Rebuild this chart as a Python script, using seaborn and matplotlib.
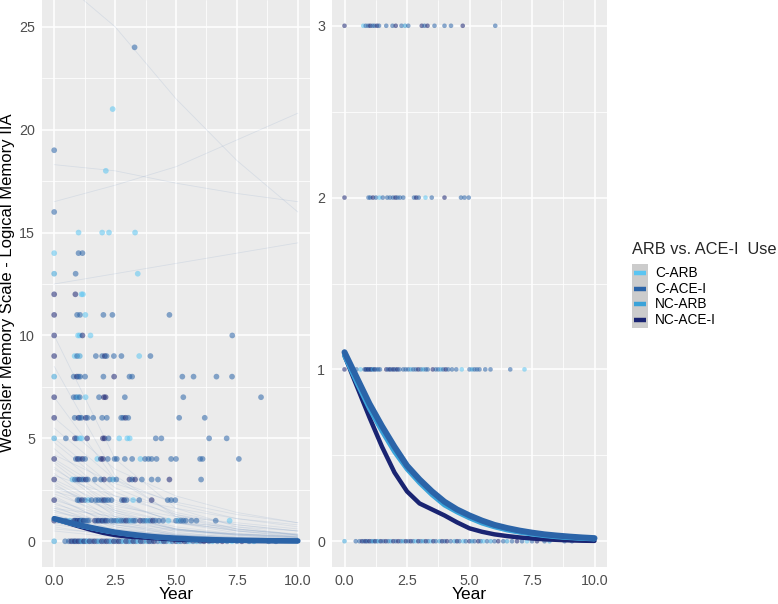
import numpy as np
import pandas as pd
import seaborn as sns
import matplotlib.pyplot as plt
from matplotlib.patches import Rectangle
from matplotlib.lines import Line2D
from matplotlib.ticker import MultipleLocator, FormatStrFormatter

groups = ["C-ARB", "C-ACE-I", "NC-ARB", "NC-ACE-I"]
group_colors = ["#5BC5F2", "#2B64A8", "#3AA3D9", "#1A2472"]
codes = {"A": "C-ARB", "B": "C-ACE-I", "N": "NC-ARB", "D": "NC-ACE-I"}

# mean predicted curves
curve_years = [0, 0.5, 1, 1.5, 2, 2.5, 3, 3.5, 4, 4.5, 5,
               5.5, 6, 6.5, 7, 7.5, 8, 8.5, 9, 9.5, 10]
mean_c_arb = [1.09, 0.93, 0.78, 0.65, 0.53, 0.43, 0.35, 0.28, 0.22, 0.175, 0.14,
              0.11, 0.087, 0.069, 0.055, 0.044, 0.035, 0.028, 0.022, 0.018, 0.014]
mean_c_ace = [1.10, 0.95, 0.80, 0.67, 0.55, 0.44, 0.36, 0.29, 0.23, 0.185, 0.15,
              0.12, 0.095, 0.077, 0.062, 0.05, 0.04, 0.033, 0.027, 0.022, 0.018]
mean_nc_arb = [1.08, 0.92, 0.77, 0.64, 0.52, 0.42, 0.34, 0.27, 0.21, 0.17, 0.135,
               0.105, 0.083, 0.065, 0.052, 0.041, 0.032, 0.025, 0.02, 0.016, 0.013]
mean_nc_ace = [1.08, 0.90, 0.72, 0.55, 0.40, 0.29, 0.22, 0.185, 0.15, 0.11, 0.075,
               0.055, 0.04, 0.03, 0.022, 0.016, 0.011, 0.008, 0.005, 0.003, 0.002]

# individual subject trajectories (faint lines, left panel)
traj_years = [0, 2.5, 5, 7.5, 10]
trajectories = [
    [5.0, 2.6, 1.4, 0.8, 0.5], [4.5, 2.0, 0.9, 0.4, 0.2], [4.0, 2.2, 1.3, 0.8, 0.5],
    [3.8, 1.5, 0.6, 0.25, 0.1], [3.5, 1.8, 1.0, 0.6, 0.35], [3.3, 1.2, 0.45, 0.15, 0.05],
    [3.0, 1.6, 0.9, 0.5, 0.3], [2.8, 1.0, 0.35, 0.12, 0.04], [2.6, 1.5, 0.9, 0.55, 0.35],
    [2.5, 0.9, 0.3, 0.1, 0.03], [2.3, 1.2, 0.6, 0.3, 0.15], [2.2, 0.7, 0.2, 0.06, 0.02],
    [2.0, 1.1, 0.6, 0.35, 0.2], [1.9, 0.6, 0.2, 0.06, 0.02], [1.8, 1.0, 0.55, 0.3, 0.18],
    [1.7, 0.5, 0.15, 0.05, 0.01], [1.6, 0.8, 0.4, 0.2, 0.1], [1.5, 0.5, 0.15, 0.05, 0.02],
    [1.4, 0.9, 0.55, 0.35, 0.22], [1.3, 0.45, 0.15, 0.05, 0.02], [1.2, 0.6, 0.3, 0.15, 0.08],
    [1.1, 0.35, 0.1, 0.03, 0.01], [1.0, 0.55, 0.3, 0.17, 0.1], [0.9, 0.3, 0.1, 0.03, 0.01],
    [0.8, 0.45, 0.25, 0.14, 0.08], [0.7, 0.25, 0.08, 0.03, 0.01], [0.6, 0.35, 0.2, 0.12, 0.07],
    [0.5, 0.2, 0.08, 0.03, 0.01], [6.0, 3.5, 2.2, 1.4, 0.9], [7.0, 3.0, 1.3, 0.6, 0.3],
    [8.5, 3.2, 1.2, 0.5, 0.2], [10.0, 4.0, 1.6, 0.7, 0.3], [5.5, 3.0, 1.8, 1.1, 0.7],
    [4.2, 2.8, 1.9, 1.3, 0.9], [3.2, 2.2, 1.6, 1.1, 0.8], [2.4, 1.7, 1.2, 0.9, 0.6],
    [1.6, 1.2, 0.9, 0.7, 0.5], [2.9, 1.3, 0.6, 0.3, 0.15], [3.6, 1.4, 0.55, 0.2, 0.08],
    [1.2, 0.8, 0.5, 0.35, 0.25], [27.5, 25.0, 21.5, 18.5, 16.0], [18.3, 18.0, 17.4, 16.9, 16.5],
    [16.5, 17.3, 18.2, 19.5, 20.8], [12.5, 13.0, 13.5, 14.0, 14.5],
    [4.8, 2.4, 1.2, 0.6, 0.3], [3.9, 1.9, 0.95, 0.5, 0.25], [2.7, 1.4, 0.7, 0.35, 0.18],
    [2.1, 0.8, 0.3, 0.1, 0.04], [1.5, 0.7, 0.35, 0.18, 0.09], [0.9, 0.5, 0.28, 0.15, 0.08],
]

# observed scores: "year+group" tokens for each score level
s0 = ("0N 0.45B 0.6B 0.7D 0.78B 0.85D 0.92B 1.0D 1.08B 1.15N 1.22D 1.3B 1.38A 1.45D "
      "1.55B 1.65D 1.75B 1.85N 1.95D 2.05B 2.15D 2.25B 2.35N 2.45D 2.55B 2.65D 2.75B "
      "2.85A 2.95D 3.05B 3.15N 3.25D 3.35B 3.45A 3.55D 3.65B 3.8N 3.9D 4.0B 4.1D 4.25B "
      "4.4N 4.5D 4.6B 4.75A 4.85B 5.0D 5.1N 5.2B 5.35D 5.45B 5.55A 5.7B 5.85N 6.0B 6.15D "
      "6.35B 6.5N 6.7B 6.9D 7.1B 7.3A 7.5B 7.7D 8.0B 8.2N 8.8B 9.1B")
s1 = ("0D 0.48B 0.64A 0.8B 0.85D 0.9B 0.95D 1.0B 1.05D 1.1B 1.15N 1.2D 1.27B 1.35B 1.42B "
      "1.67D 1.75B 1.82D 1.9B 1.97D 2.05B 2.12D 2.2B 2.35B 2.45B 2.55B 2.65N 2.75B 2.85B "
      "2.95D 3.05B 3.15N 3.25B 3.33B 3.53D 3.65B 3.75B 3.85N 3.95B 4.05D 4.15B 4.3B 4.47B "
      "4.69A 5.0B 5.1N 5.2B 5.3B 5.4B 5.63B 5.84B 6.63B 7.2A")
s2 = ("0D 0.96B 1.03B 1.14D 1.26B 1.4A 1.53B 1.71B 1.82B 1.94B 2.04D 2.12B 2.22B 2.35B "
      "2.78B 2.87D 2.97B 3.24A 3.49B 4.0D 4.66B 4.8B 4.97B")
s3 = ("0D 0.75A 0.85B 0.95B 1.03D 1.12B 1.2B 1.3D 1.38B 1.67B 1.92B 2.05D 2.28B 2.42N "
      "2.55B 3.09D 3.2B 3.32D 3.6B 4.0B 4.26B 4.73D 6.03B")
s4 = ("0D 0.89B 0.97D 1.05B 1.16D 1.27B 1.77A 1.92D 2.0D 2.2B 2.48B 2.57B 2.9B 3.2B "
      "3.54A 3.73B 3.87B 4.0B 4.2B 4.8B 5.0B 5.99B 6.09B 7.58B")
s5 = "0N 0.48B 0.85D 0.92B 1.05A 1.12A 1.35D 2.0D 2.07D 2.23B 2.67A 3.0A 3.1A 4.17B 4.4B 6.36B 7.08B"
s6 = "0D 0.84B 1.0D 1.05B 1.12B 1.3D 1.37B 1.6B 1.97B 2.16B 2.75B 2.83B 2.93D 3.04B 5.13B 6.18B"
s7 = "0D 0.8B 0.9B 0.98N 1.05B 1.29A 1.84B 2.04D 2.11D 2.9B 5.3B 8.49B"
s8 = "0N 0.8B 0.93D 1.0B 1.07B 1.27B 2.02B 2.46D 3.09B 3.2B 5.26B 5.72B 6.66B 7.3B"
s9 = "0D 0.84A 0.94B 1.05N 1.71B 1.97B 2.08D 2.15B 2.45B 2.76B 3.49A 3.95B"
s10 = "0D 0.98A 1.05A 1.16D 1.49A 7.31B"
s11 = "0D 0.94B 1.06B 1.28A 2.02B 2.39B 4.73B"
s12 = "0D 0.87D 1.12A 1.18A"
s13 = "0N 0.88B 3.43A"
s14 = "0A 1.0B 1.16B"
s15 = "1.0A 1.97A 2.25A 3.32A"
s16 = "0B"
s18 = "2.12A"
s19 = "0B"
s21 = "2.4A"
s24 = "3.3B"

score_levels = [0, 1, 2, 3, 4, 5, 6, 7, 8, 9, 10, 11, 12, 13, 14, 15, 16, 18, 19, 21, 24]
level_tokens = [s0, s1, s2, s3, s4, s5, s6, s7, s8, s9, s10, s11, s12, s13, s14, s15,
                s16, s18, s19, s21, s24]

rows = []
for score, tokens in zip(score_levels, level_tokens):
    for tok in tokens.split():
        rows.append({"year": float(tok[:-1]), "score": score, "group": codes[tok[-1]]})
pts = pd.DataFrame(rows)

mean_df = pd.concat([
    pd.DataFrame({"year": curve_years, "score": vals, "group": g})
    for g, vals in zip(groups, [mean_c_arb, mean_c_ace, mean_nc_arb, mean_nc_ace])
])

traj_df = pd.concat([
    pd.DataFrame({"year": traj_years, "score": row, "id": i})
    for i, row in enumerate(trajectories)
])

sns.set_theme(style="darkgrid", rc={
    "axes.facecolor": "#EBEBEB",
    "grid.color": "white",
    "figure.facecolor": "white",
})
plt.rcParams["font.family"] = ["Liberation Sans", "DejaVu Sans"]

palette = dict(zip(groups, group_colors))
draw_order = ["NC-ACE-I", "C-ARB", "NC-ARB", "C-ACE-I"]
widths = {"NC-ACE-I": 3.2, "C-ARB": 3.4, "NC-ARB": 3.4, "C-ACE-I": 4.3}

W, H = 778, 604
fig = plt.figure(figsize=(W / 100, H / 100), dpi=100)
ax1 = fig.add_axes([42 / W, 1 - 567 / H, 268 / W, 567 / H])
ax2 = fig.add_axes([332 / W, 1 - 567 / H, 275 / W, 567 / H])

# left panel
sns.lineplot(data=traj_df, x="year", y="score", units="id", estimator=None,
             color="#4a78b5", alpha=0.12, lw=0.6, ax=ax1)
sns.scatterplot(data=pts, x="year", y="score", hue="group", palette=palette,
                alpha=0.55, s=17, linewidth=0, legend=False, ax=ax1)
for g in draw_order:
    sns.lineplot(data=mean_df[mean_df.group == g], x="year", y="score",
                 color=palette[g], lw=widths[g] - 0.3, ax=ax1)

# right panel: same data, scores up to 3
sns.scatterplot(data=pts[pts.score <= 3], x="year", y="score", hue="group", palette=palette,
                alpha=0.55, s=11, linewidth=0, legend=False, ax=ax2)
for g in draw_order:
    sns.lineplot(data=mean_df[mean_df.group == g], x="year", y="score",
                 color=palette[g], lw=widths[g], ax=ax2)

ax1.set_xlim(-0.5, 10.5)
ax1.set_ylim(-1.25, 26.3)
ax2.set_xlim(-0.5, 10.5)
ax2.set_ylim(-0.15, 3.15)

ax1.yaxis.set_major_locator(MultipleLocator(5))
ax1.yaxis.set_minor_locator(MultipleLocator(2.5))
ax2.yaxis.set_major_locator(MultipleLocator(1))
ax2.yaxis.set_minor_locator(MultipleLocator(0.5))

for ax in (ax1, ax2):
    ax.xaxis.set_major_locator(MultipleLocator(2.5))
    ax.xaxis.set_minor_locator(MultipleLocator(1.25))
    ax.xaxis.set_major_formatter(FormatStrFormatter("%.1f"))
    ax.grid(which="major", color="white", lw=1.1)
    ax.grid(which="minor", color="white", lw=0.55)
    ax.tick_params(which="major", length=3, width=0.8, color="#333333",
                   labelcolor="#4d4d4d", labelsize=10.3, pad=2)
    ax.tick_params(which="minor", length=0)
    for sp in ax.spines.values():
        sp.set_visible(False)
    ax.set_ylabel("")
    ax.set_xlabel("Year", fontsize=12.5, color="black")
    ax.xaxis.set_label_coords(0.5, -0.035)
    ax.xaxis.label.set_va("top")

fig.text(8 / W, 1 - 283 / H, "Wechsler Memory Scale - Logical Memory IIA",
         rotation=90, ha="center", va="center", fontsize=12, color="black")

# legend
def fx(x):
    return x / W

def fy(y):
    return 1 - y / H

fig.text(fx(632), fy(250), "ARB vs. ACE-I  Use", fontsize=11.8, ha="left", va="center")
fig.add_artist(Rectangle((fx(632), fy(328)), 16 / W, 64 / H, transform=fig.transFigure,
                         facecolor="#cccccc", edgecolor="none"))
for i, g in enumerate(groups):
    yy = fy(273 + i * 15.7)
    fig.add_artist(Line2D([fx(634), fx(646)], [yy, yy], transform=fig.transFigure,
                          color=palette[g], lw=3.2, solid_capstyle="butt"))
    fig.text(fx(655), yy, g, fontsize=9.8, ha="left", va="center", color="black")

fig.savefig("out.png", dpi=100)
